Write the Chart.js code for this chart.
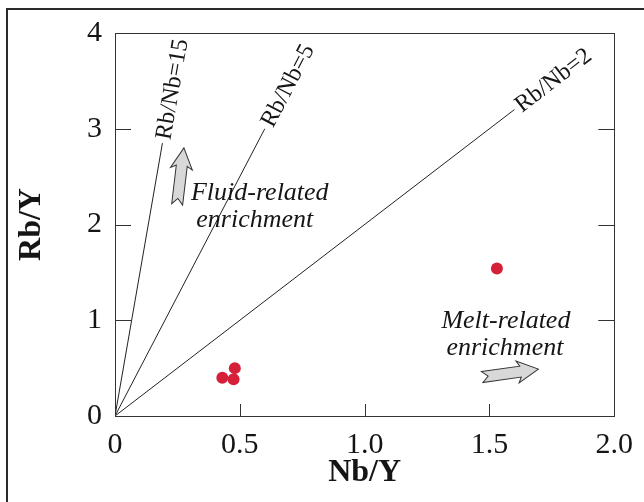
<!DOCTYPE html>
<html>
<head>
<meta charset="utf-8">
<script src="https://cdn.jsdelivr.net/npm/chart.js@4.4.0/dist/chart.umd.min.js"></script>
<style>
  html, body { margin: 0; padding: 0; background: #fff; }
  #wrap { position: relative; width: 644px; height: 502px; }
</style>
</head>
<body>
<div id="wrap"><canvas id="rb-nb-chart" width="644" height="502"></canvas></div>
<script>
// sample ratios
const nbY = [0.43, 0.475, 0.48, 1.53];
const rbY = [0.40, 0.385, 0.50, 1.54];

// constant Rb/Nb lines through the origin
const rbNbRatios = [15, 5, 2];
const rbNbEndX = [0.19, 0.6, 1.6];
const rbNbLabels = ['Rb/Nb=15', 'Rb/Nb=5', 'Rb/Nb=2'];

const xTicks = [0, 0.5, 1.0, 1.5, 2.0];
const xTickLabels = ['0', '0.5', '1.0', '1.5', '2.0'];
const yTicks = [0, 1, 2, 3, 4];
const yTickLabels = ['0', '1', '2', '3', '4'];

// enrichment trend notes: text lines, anchor (data units), arrow tail -> tip
const fluidText = ['Fluid-related', 'enrichment'];
const fluidTextAt = [[0.58, 2.256], [0.56, 1.97]];
const fluidArrow = [[0.249, 2.21], [0.276, 2.80]];
const meltText = ['Melt-related', 'enrichment'];
const meltTextAt = [[1.566, 0.919], [1.562, 0.637]];
const meltArrow = [[1.471, 0.407], [1.696, 0.49]];

const serif = "'Liberation Serif', 'Times New Roman', serif";
const ink = '#151515';

const rbNbCanvas = document.getElementById('rb-nb-chart').getContext('2d');

const lineSets = rbNbRatios.map((r, i) => ({
  type: 'line',
  data: [{ x: 0, y: 0 }, { x: rbNbEndX[i], y: r * rbNbEndX[i] }],
  borderColor: '#222',
  borderWidth: 1,
  pointRadius: 0,
  tension: 0,
  order: 2,
}));

const dataRbNb = {
  datasets: [
    ...lineSets,
    {
      type: 'scatter',
      label: 'Samples',
      data: nbY.map((x, i) => ({ x: x, y: rbY[i] })),
      backgroundColor: '#d6203a',
      borderWidth: 0,
      pointRadius: 6,
      order: 1,
    },
  ],
};

function blockArrow(ctx, x0, y0, x1, y1) {
  const len = Math.hypot(x1 - x0, y1 - y0);
  const shaftW = 11, headW = 22, headL = 21, notch = 6;
  ctx.save();
  ctx.translate(x0, y0);
  ctx.rotate(Math.atan2(y1 - y0, x1 - x0));
  ctx.beginPath();
  ctx.moveTo(0, -shaftW / 2);
  ctx.lineTo(len - headL + 3, -shaftW / 2);
  ctx.lineTo(len - headL, -headW / 2);
  ctx.lineTo(len, 0);
  ctx.lineTo(len - headL, headW / 2);
  ctx.lineTo(len - headL + 3, shaftW / 2);
  ctx.lineTo(0, shaftW / 2);
  ctx.lineTo(notch, 0);
  ctx.closePath();
  ctx.fillStyle = '#d8d8d8';
  ctx.fill();
  ctx.strokeStyle = '#333';
  ctx.lineWidth = 1;
  ctx.stroke();
  ctx.restore();
}

const diagramDecor = {
  id: 'diagramDecor',
  afterDatasetsDraw(chart) {
    const { ctx, chartArea: a, scales: { x, y } } = chart;
    ctx.save();

    // plot frame
    ctx.strokeStyle = '#333';
    ctx.lineWidth = 1;
    ctx.strokeRect(Math.round(a.left) + 0.5, Math.round(a.top) + 0.5,
      Math.round(a.right - a.left), Math.round(a.bottom - a.top));

    // inward tick marks
    ctx.beginPath();
    xTicks.slice(1, -1).forEach((v) => {
      const px = Math.round(x.getPixelForValue(v)) + 0.5;
      ctx.moveTo(px, a.bottom);
      ctx.lineTo(px, a.bottom - 12);
    });
    yTicks.slice(1, -1).forEach((v) => {
      const py = Math.round(y.getPixelForValue(v)) + 0.5;
      ctx.moveTo(a.left, py);
      ctx.lineTo(a.left + 16, py);
      ctx.moveTo(a.right, py);
      ctx.lineTo(a.right - 16, py);
    });
    ctx.stroke();

    // ratio labels running along each line
    ctx.fillStyle = ink;
    ctx.font = '24px ' + serif;
    ctx.textAlign = 'left';
    ctx.textBaseline = 'middle';
    rbNbRatios.forEach((r, i) => {
      const x0 = x.getPixelForValue(0), y0 = y.getPixelForValue(0);
      const x1 = x.getPixelForValue(rbNbEndX[i]);
      const y1 = y.getPixelForValue(r * rbNbEndX[i]);
      const ang = Math.atan2(y1 - y0, x1 - x0);
      ctx.save();
      ctx.translate(x1, y1);
      ctx.rotate(ang);
      ctx.fillText(rbNbLabels[i], 4, 1);
      ctx.restore();
    });

    // enrichment notes
    ctx.font = 'italic 26px ' + serif;
    ctx.textAlign = 'center';
    ctx.textBaseline = 'alphabetic';
    fluidText.forEach((t, i) => {
      ctx.fillText(t, x.getPixelForValue(fluidTextAt[i][0]), y.getPixelForValue(fluidTextAt[i][1]));
    });
    meltText.forEach((t, i) => {
      ctx.fillText(t, x.getPixelForValue(meltTextAt[i][0]), y.getPixelForValue(meltTextAt[i][1]));
    });
    [fluidArrow, meltArrow].forEach((ar) => {
      blockArrow(ctx,
        x.getPixelForValue(ar[0][0]), y.getPixelForValue(ar[0][1]),
        x.getPixelForValue(ar[1][0]), y.getPixelForValue(ar[1][1]));
    });

    ctx.restore();
  },
  afterDraw(chart) {
    // figure border on top and left
    const { ctx } = chart;
    ctx.save();
    ctx.strokeStyle = '#2b2b2b';
    ctx.lineWidth = 2;
    ctx.beginPath();
    ctx.moveTo(7, 502);
    ctx.lineTo(7, 9);
    ctx.lineTo(644, 9);
    ctx.stroke();
    ctx.restore();
  },
};

const configRbNb = {
  type: 'scatter',
  data: dataRbNb,
  options: {
    responsive: false,
    devicePixelRatio: 1,
    animation: false,
    events: [],
    layout: {
      padding: { top: 33, right: 22, bottom: 0, left: 0 },
    },
    plugins: {
      legend: { display: false },
      tooltip: { enabled: false },
    },
    scales: {
      x: {
        type: 'linear',
        min: 0,
        max: 2,
        afterBuildTicks: (scale) => {
          scale.ticks = xTicks.map((v) => ({ value: v }));
        },
        afterFit: (scale) => {
          scale.height = 86;
        },
        grid: { display: false, drawTicks: false },
        border: { display: false },
        ticks: {
          callback: (v) => xTickLabels[xTicks.indexOf(v)],
          font: { family: serif, size: 30 },
          color: ink,
          padding: 11,
          maxRotation: 0,
          autoSkip: false,
        },
        title: {
          display: true,
          text: 'Nb/Y',
          font: { family: serif, size: 32, weight: 'bold', lineHeight: 1 },
          color: ink,
          padding: { top: 0, bottom: 13 },
        },
      },
      y: {
        type: 'linear',
        min: 0,
        max: 4,
        afterBuildTicks: (scale) => {
          scale.ticks = yTicks.map((v) => ({ value: v }));
        },
        afterFit: (scale) => {
          scale.width = 115;
        },
        grid: { display: false, drawTicks: false },
        border: { display: false },
        ticks: {
          callback: (v) => yTickLabels[yTicks.indexOf(v)],
          font: { family: serif, size: 30 },
          color: ink,
          padding: 13,
          autoSkip: false,
        },
        title: {
          display: true,
          text: 'Rb/Y',
          font: { family: serif, size: 32, weight: 'bold', lineHeight: 1 },
          color: ink,
          padding: { top: 16, bottom: 0 },
        },
      },
    },
  },
  plugins: [diagramDecor],
};

new Chart(rbNbCanvas, configRbNb);
</script>
</body>
</html>
